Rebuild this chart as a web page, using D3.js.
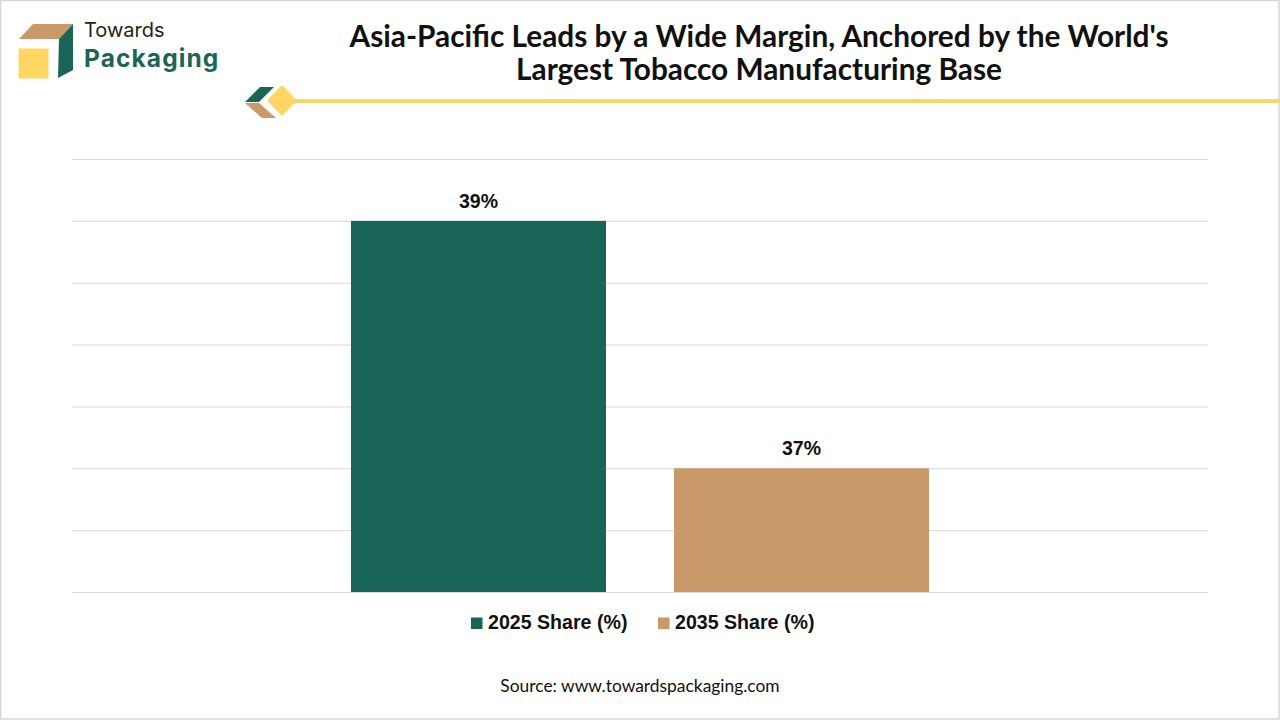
<!DOCTYPE html>
<html>
<head>
<meta charset="utf-8">
<script src="https://cdn.jsdelivr.net/npm/d3@7"></script>
<style>
  html, body { margin: 0; padding: 0; background: #fff; }
  svg { display: block; }
</style>
</head>
<body>
<svg id="chart" width="1280" height="720"></svg>
<script>
// ---- data ----
const categories = ["Asia-Pacific"];
const seriesNames = ["2025 Share (%)", "2035 Share (%)"];
const values2025 = [39];
const values2035 = [37];
const valueLabels2025 = ["39%"];
const valueLabels2035 = ["37%"];
const yTicks = [36, 36.5, 37, 37.5, 38, 38.5, 39, 39.5];
const titleLines = ["Asia-Pacific Leads by a Wide Margin, Anchored by the World's", "Largest Tobacco Manufacturing Base"];
const sourceText = "Source: www.towardspackaging.com";

const colors = ["#186557", "#c9996a"];

const svg = d3.select("#chart");
const W = 1280, H = 720;

svg.append("rect").attr("x", 0.5).attr("y", 0.5).attr("width", W - 1.5).attr("height", H - 1.5)
  .attr("fill", "#fff").attr("stroke", "#d6d6d6").attr("stroke-width", 1.5);

// ---- logo ----
const logo = svg.append("g");
logo.append("polygon").attr("points", "19,39 33,24 73,24 59,39").attr("fill", "#c9996a");
logo.append("polygon").attr("points", "59,39 73,24 73,70 58,78").attr("fill", "#1b6557");
logo.append("rect").attr("x", 18.5).attr("y", 48.5).attr("width", 30).attr("height", 30).attr("fill", "#fdd663");
logo.append("text").attr("x", 84).attr("y", 37).text("Towards")
  .attr("font-family", "Inter, 'Open Sans', sans-serif").attr("font-size", 20).attr("fill", "#222");
logo.append("text").attr("x", 84).attr("y", 66.5).text("Packaging")
  .attr("font-family", "Inter, 'Open Sans', sans-serif").attr("font-weight", 700)
  .attr("font-size", 24.5).attr("letter-spacing", 1.1).attr("fill", "#1b6557");

// ---- decoration ----
const deco = svg.append("g");
deco.append("rect").attr("x", 285).attr("y", 99).attr("width", W - 285).attr("height", 4).attr("fill", "#f8d869");
deco.append("polygon").attr("points", "245,102 260,87 274,87 259,102").attr("fill", "#1b6557");
deco.append("polygon").attr("points", "245,103 259,103 276,118 262,118").attr("fill", "#c9996a");
deco.append("polygon").attr("points", "282,87 295,100.5 282,114 269,100.5").attr("fill", "#fdd663")
  .attr("stroke", "#fdd663").attr("stroke-width", 3).attr("stroke-linejoin", "round");

// ---- title ----
svg.append("text").attr("x", 759).attr("y", 0)
  .attr("text-anchor", "middle")
  .attr("font-family", "Lato, 'Open Sans', sans-serif").attr("font-weight", 700)
  .attr("font-size", 29.8).attr("fill", "#111")
  .selectAll("tspan").data(titleLines).join("tspan")
  .attr("x", 759).attr("y", (d, i) => 47 + i * 33).text(d => d);

// ---- chart ----
const plot = { left: 72, right: 1208, top: 159, bottom: 592 };

const x0 = d3.scaleBand().domain(categories).range([plot.left, plot.right]).padding(0);
const x1 = d3.scaleBand().domain(seriesNames).range([0, x0.bandwidth()])
  .paddingInner(0.2105).paddingOuter(0.8637);
const y = d3.scaleLinear().domain([36, 39.5]).range([plot.bottom, plot.top]);

// gridlines via axis
const yAxis = d3.axisLeft(y).tickValues(yTicks).tickSize(-(plot.right - plot.left)).tickFormat("");
const gy = svg.append("g").attr("transform", `translate(${plot.left},0)`).call(yAxis);
gy.select(".domain").remove();
gy.selectAll(".tick line").attr("stroke", "#d9d9d9").attr("stroke-width", 1);

const seriesData = [
  { name: seriesNames[0], values: values2025, labels: valueLabels2025, color: colors[0] },
  { name: seriesNames[1], values: values2035, labels: valueLabels2035, color: colors[1] }
];

const groups = svg.append("g");
seriesData.forEach(s => {
  categories.forEach((c, i) => {
    const bx = x0(c) + x1(s.name);
    groups.append("rect")
      .attr("x", bx).attr("y", y(s.values[i]))
      .attr("width", x1.bandwidth()).attr("height", y(36) - y(s.values[i]))
      .attr("fill", s.color);
    groups.append("text")
      .attr("x", bx + x1.bandwidth() / 2).attr("y", y(s.values[i]) - 13)
      .attr("text-anchor", "middle")
      .attr("font-family", "'Liberation Sans', Arial, sans-serif").attr("font-weight", 700)
      .attr("font-size", 19.5).attr("fill", "#111")
      .text(s.labels[i]);
  });
});

// baseline
svg.append("line").attr("x1", plot.left).attr("x2", plot.right)
  .attr("y1", y(36) + 0.5).attr("y2", y(36) + 0.5).attr("stroke", "#d9d9d9").attr("stroke-width", 1);

// ---- legend ----
const legendX = [471, 658];
const legend = svg.append("g");
seriesData.forEach((s, i) => {
  legend.append("rect").attr("x", legendX[i]).attr("y", 617.5).attr("width", 11.5).attr("height", 11.5).attr("fill", s.color);
  legend.append("text").attr("x", legendX[i] + 17).attr("y", 629)
    .attr("font-family", "'Liberation Sans', Arial, sans-serif").attr("font-weight", 700)
    .attr("font-size", 19.6).attr("fill", "#111").text(s.name);
});

// ---- source ----
svg.append("text").attr("x", 640).attr("y", 692).attr("text-anchor", "middle")
  .attr("font-family", "Lato, 'Open Sans', sans-serif").attr("font-size", 17.4).attr("fill", "#111")
  .text(sourceText);
</script>
</body>
</html>
